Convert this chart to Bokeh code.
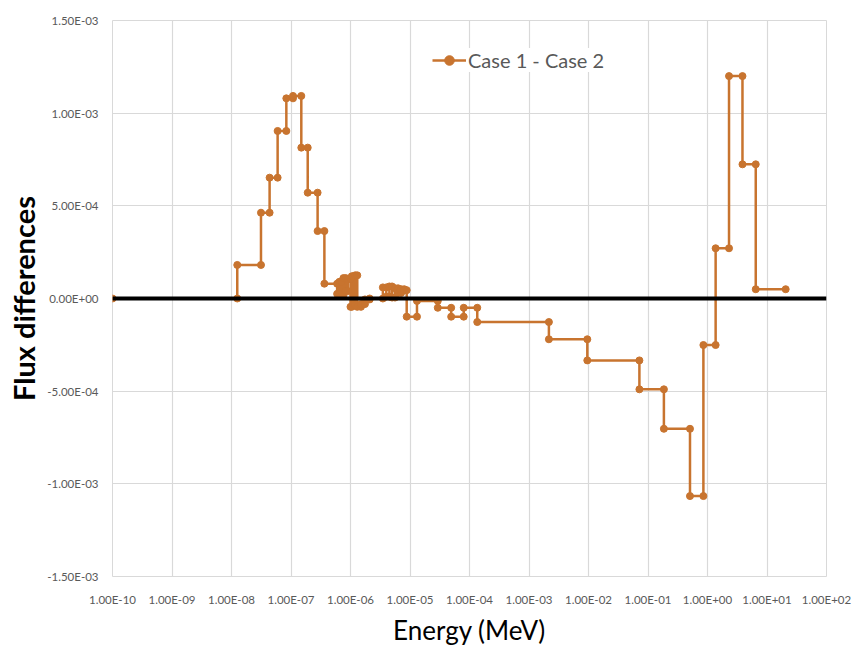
from bokeh.plotting import figure
from bokeh.models import FixedTicker, Span, Legend, LegendItem
from bokeh.embed import file_html
from bokeh.resources import INLINE

# Energy group boundaries (MeV) and flux difference per group (Case 1 - Case 2)
energy_bounds = [1e-10, 1.25e-8, 3.13e-8, 4.37e-8, 5.96e-8, 8.35e-8, 1.08e-7, 1.49e-7,
                 1.91e-7, 2.8e-7, 3.64e-7, 5.96e-7, 6.5e-7, 7.0e-7, 7.6e-7, 8.3e-7,
                 9.0e-7, 1.0e-6, 1.05e-6, 1.12e-6, 1.2e-6, 1.3e-6, 1.5e-6, 1.75e-6,
                 2.1e-6, 3.5e-6, 4.0e-6, 4.5e-6, 5.0e-6, 5.6e-6, 6.3e-6, 7.1e-6,
                 8.0e-6, 8.8e-6, 1.31e-5, 2.93e-5, 4.92e-5, 8.0e-5, 1.35e-4, 2.16e-3,
                 9.55e-3, 7.17e-2, 1.85e-1, 5.08e-1, 8.53e-1, 1.37, 2.30, 3.87, 6.47, 20.6]
flux_diff = [0.0, 1.81e-4, 4.63e-4, 6.52e-4, 9.04e-4, 1.08e-3, 1.093e-3, 8.14e-4,
             5.71e-4, 3.64e-4, 8.0e-5, 2.5e-5, 9.0e-5, 1.5e-5, 1.1e-4, 4.0e-5,
             1.05e-4, -4.5e-5, 1.2e-4, -3.5e-5, 1.25e-4, -4.5e-5, -3.0e-5, -5e-6,
             0.0, 6.0e-5, 1.0e-5, 6.5e-5, 5e-6, 5.5e-5, 3.0e-5, 5.0e-5,
             4.5e-5, -9.8e-5, -1.3e-5, -5.0e-5, -9.8e-5, -5.0e-5, -1.27e-4, -2.2e-4,
             -3.34e-4, -4.9e-4, -7.03e-4, -1.066e-3, -2.51e-4, 2.71e-4, 1.2e-3, 7.24e-4, 5.0e-5]

x_ticks = [1e-10, 1e-9, 1e-8, 1e-7, 1e-6, 1e-5, 1e-4, 1e-3, 1e-2, 1e-1, 1e0, 1e1, 1e2]
x_tick_labels = ["1.00E-10", "1.00E-09", "1.00E-08", "1.00E-07", "1.00E-06", "1.00E-05",
                 "1.00E-04", "1.00E-03", "1.00E-02", "1.00E-01", "1.00E+00", "1.00E+01", "1.00E+02"]
y_ticks = [-1.5e-3, -1.0e-3, -5.0e-4, 0.0, 5.0e-4, 1.0e-3, 1.5e-3]
y_tick_labels = ["-1.50E-03", "-1.00E-03", "-5.00E-04", "0.00E+00", "5.00E-04", "1.00E-03", "1.50E-03"]

series_name = "Case 1 - Case 2"

# step points: two per group (lower and upper bound at the group value)
xs, ys = [], []
for i, v in enumerate(flux_diff):
    xs += [energy_bounds[i], energy_bounds[i + 1]]
    ys += [v, v]

COLOR = "#C8742F"
FONT = "Lato"

p = figure(width=856, height=648, x_axis_type="log",
           x_range=(1e-10, 1e2), y_range=(-1.5e-3, 1.5e-3),
           output_backend="svg", toolbar_location=None,
           min_border_left=112, min_border_right=30,
           min_border_top=20, min_border_bottom=71)
p.outline_line_color = "#d9d9d9"
p.background_fill_color = "white"
p.border_fill_color = "white"

p.xaxis.ticker = FixedTicker(ticks=x_ticks, minor_ticks=[])
p.yaxis.ticker = FixedTicker(ticks=y_ticks, minor_ticks=[])
p.xaxis.major_label_overrides = dict(zip(x_ticks, x_tick_labels))
p.yaxis.major_label_overrides = dict(zip(y_ticks, y_tick_labels))

for ax in (p.xaxis, p.yaxis):
    ax.axis_line_color = None
    ax.major_tick_line_color = None
    ax.minor_tick_line_color = None
    ax.major_label_text_font = FONT
    ax.major_label_text_font_size = "11.5px"
    ax.major_label_text_color = "#595959"
    ax.axis_label_text_font = FONT
    ax.axis_label_text_color = "black"

p.xaxis.major_label_standoff = 10
p.yaxis.major_label_standoff = 8
p.xaxis.axis_label = "Energy (MeV)"
p.yaxis.axis_label = "Flux differences"
p.xaxis.axis_label_text_font_size = "26px"
p.yaxis.axis_label_text_font_size = "29px"
p.xaxis.axis_label_text_font_style = "normal"
p.yaxis.axis_label_text_font_style = "bold"
p.xaxis.axis_label_standoff = 5
p.yaxis.axis_label_standoff = 3

p.xgrid.grid_line_color = "#d9d9d9"
p.ygrid.grid_line_color = "#d9d9d9"
p.xgrid.grid_line_width = 1.2
p.ygrid.grid_line_width = 1.2

zero = Span(location=0, dimension="width", line_color="black", line_width=4)
p.add_layout(zero)

ln = p.line(xs, ys, line_color=COLOR, line_width=2.5)
sc = p.scatter(xs, ys, size=7, fill_color=COLOR, line_color=COLOR)

legend = Legend(items=[LegendItem(label=series_name, renderers=[ln, sc])],
                location=(320, 504), orientation="horizontal",
                border_line_color=None, background_fill_color="white",
                background_fill_alpha=1.0, label_text_font=FONT,
                label_text_font_size="20px", label_text_color="#595959",
                glyph_width=34, glyph_height=24, padding=6, margin=0,
                label_standoff=2)
p.add_layout(legend)

open("out.html", "w").write(file_html(p, INLINE))
